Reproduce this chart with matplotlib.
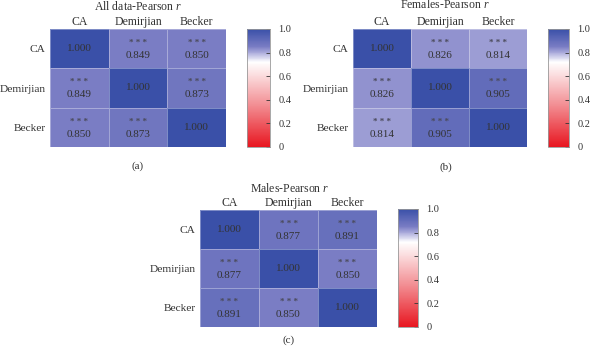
import numpy as np
import matplotlib
matplotlib.use("Agg")
import matplotlib.pyplot as plt
from matplotlib.colors import LinearSegmentedColormap

plt.rcParams['font.family'] = ['Liberation Serif', 'DejaVu Serif']
plt.rcParams['mathtext.fontset'] = 'custom'
plt.rcParams['mathtext.it'] = 'Liberation Serif:italic'
plt.rcParams['mathtext.rm'] = 'Liberation Serif'

methods = ["CA", "Demirjian", "Becker"]

all_data = [[1.000, 0.849, 0.850],
            [0.849, 1.000, 0.873],
            [0.850, 0.873, 1.000]]
females = [[1.000, 0.826, 0.814],
           [0.826, 1.000, 0.905],
           [0.814, 0.905, 1.000]]
males = [[1.000, 0.877, 0.891],
         [0.877, 1.000, 0.850],
         [0.891, 0.850, 1.000]]

titles = ["All data-Pearson $r$", "Females-Pearson $r$", "Males-Pearson $r$"]
sublabels = ["(a)", "(b)", "(c)"]
cbar_ticks = [0, 0.2, 0.4, 0.6, 0.8, 1.0]

cmap = LinearSegmentedColormap.from_list("rwb", [
    (0.0, (232/255, 22/255, 32/255)),
    (0.35, (242/255, 140/255, 145/255)),
    (0.72, (1, 1, 1)),
    (0.80, (172/255, 172/255, 220/255)),
    (0.85, (122/255, 125/255, 196/255)),
    (1.0, (58/255, 80/255, 168/255)),
])

W, H = 590, 354
fig = plt.figure(figsize=(W / 100, H / 100), dpi=100)


def px(x0, y0, x1, y1):
    return [x0 / W, 1 - y1 / H, (x1 - x0) / W, (y1 - y0) / H]


# heatmap box, colorbar box, title position, sublabel position (pixels)
layout = [
    ((50, 29, 226, 147), (247, 29, 270, 147), (138, 7), (138, 166)),
    ((353, 29, 527, 147), (548, 29, 569, 147), (445, 5), (446, 167)),
    ((200, 210, 377, 327), (398, 209, 418, 327), (290, 188), (289, 340)),
]

txt = "#333333"
for mat, title, sub, (hb, cb, tp, lab) in zip([all_data, females, males], titles, sublabels, layout):
    m = np.array(mat)
    ax = fig.add_axes(px(*hb))
    im = ax.pcolormesh(m, cmap=cmap, vmin=0, vmax=1, edgecolors=(1, 1, 1, 0.35), linewidth=0.6)
    ax.set_xlim(0, 3)
    ax.set_ylim(3, 0)
    ax.xaxis.tick_top()
    ax.set_xticks(np.arange(3) + 0.5)
    ax.set_xticklabels(methods, fontsize=8.5, color=txt)
    ax.set_yticks(np.arange(3) + 0.5)
    ax.set_yticklabels(methods, fontsize=8.2, color=txt)
    ax.tick_params(axis="x", length=0, pad=1)
    ax.tick_params(axis="y", length=0, pad=3)
    for s in ax.spines.values():
        s.set_visible(False)
    fig.text(tp[0] / W, 1 - tp[1] / H, title, ha="center", va="center", fontsize=8.5, color=txt)
    for i in range(3):
        for j in range(3):
            if i == j:
                ax.text(j + 0.5, i + 0.5, f"{m[i, j]:.3f}", ha="center", va="center",
                        fontsize=8, color=txt)
            else:
                ax.text(j + 0.5, i + 0.36, "* * *", ha="center", va="center",
                        fontsize=6.5, color="#4a4a5a", fontweight="bold")
                ax.text(j + 0.5, i + 0.67, f"{m[i, j]:.3f}", ha="center", va="center",
                        fontsize=8, color=txt)

    cax = fig.add_axes(px(*cb))
    cbar = fig.colorbar(im, cax=cax, ticks=cbar_ticks)
    cbar.outline.set_edgecolor("#999999")
    cbar.outline.set_linewidth(0.6)
    cbar.ax.set_yticklabels(["0", "0.2", "0.4", "0.6", "0.8", "1.0"])
    cbar.ax.tick_params(labelsize=7.5, colors=txt, length=3, width=0.6, direction="in", pad=6)

    fig.text(lab[0] / W, 1 - lab[1] / H, sub, ha="center", va="center", fontsize=8, color=txt)

fig.savefig("out.png", dpi=100)
